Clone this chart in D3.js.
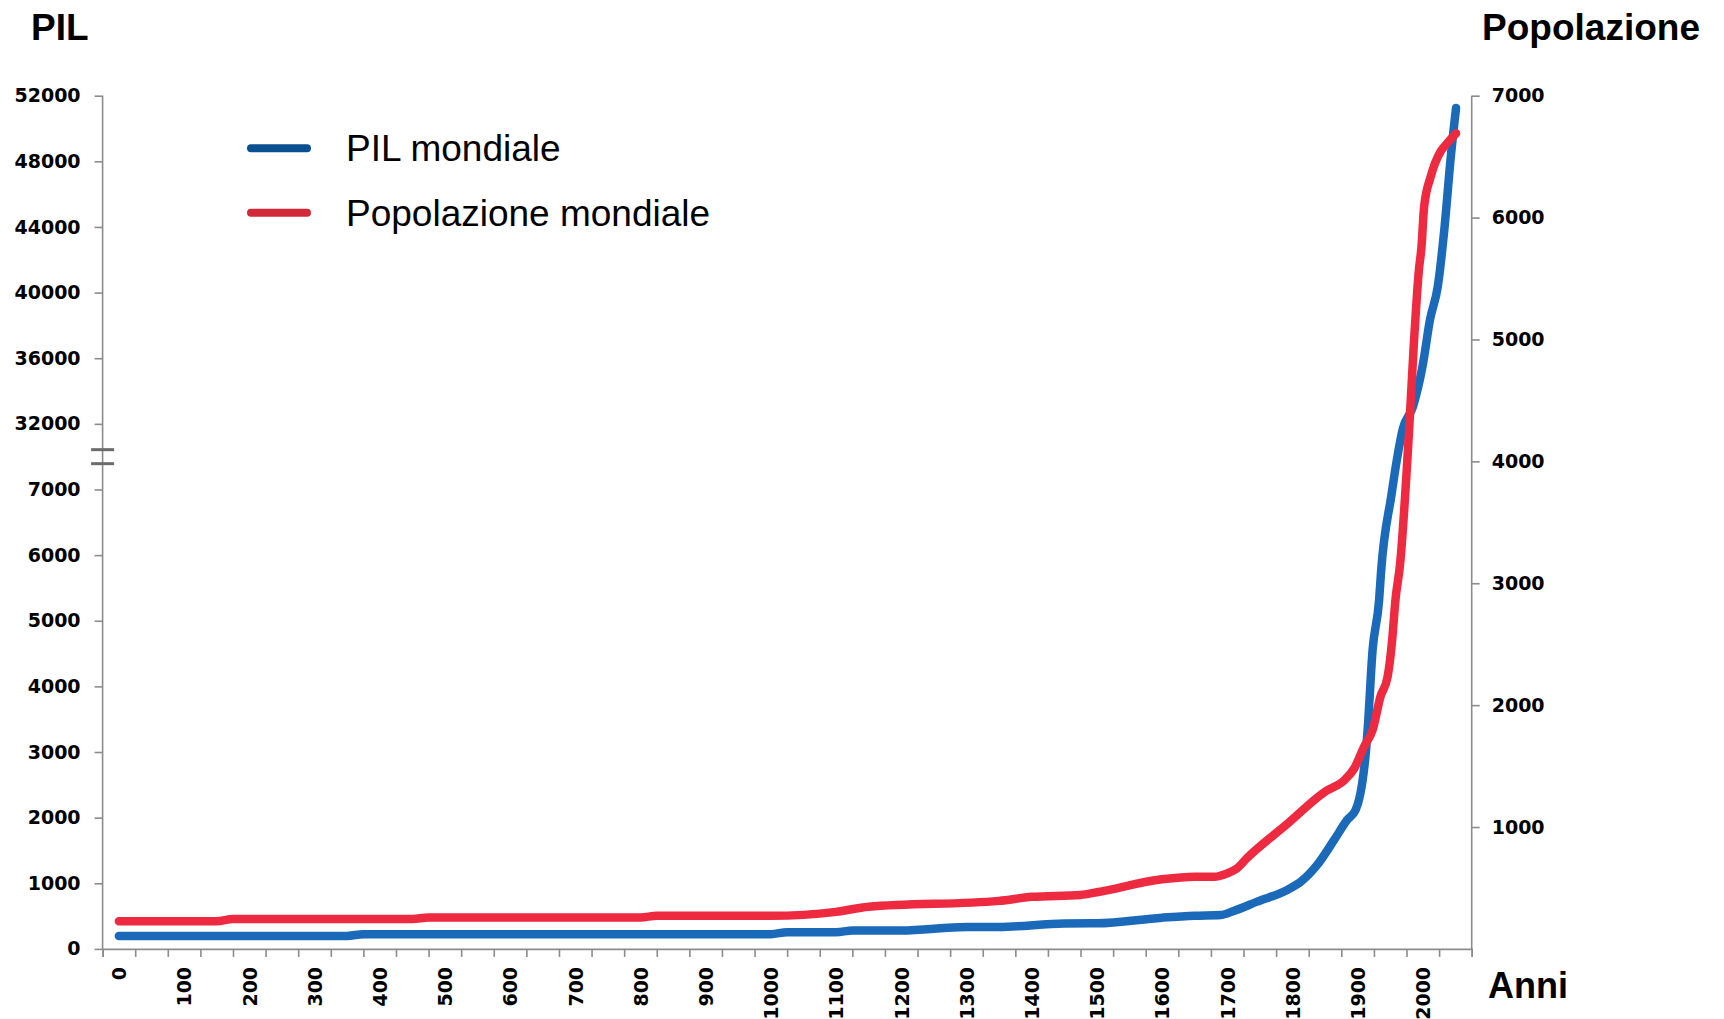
<!DOCTYPE html>
<html>
<head>
<meta charset="utf-8">
<script src="https://cdn.jsdelivr.net/npm/d3@7"></script>
<style>
  html, body { margin: 0; padding: 0; background: #fff; }
  svg { display: block; }
  .tick text { font-family: "DejaVu Sans", sans-serif; font-weight: bold; font-size: 19px; fill: #000; }
</style>
</head>
<body>
<div id="chart"></div>
<script>
// ---------- DATA ----------
const pilYears  = [0, 350, 375, 1000, 1025, 1100, 1125, 1200, 1300, 1350, 1450, 1500, 1600, 1650, 1690, 1710, 1746, 1792, 1813, 1838, 1864, 1884, 1897, 1907, 1912, 1915, 1923, 1933, 1936, 1952, 1960, 1969, 1985, 2000, 2011, 2023, 2033, 2043, 2051];
const pilValues = [198, 198, 224, 224, 255, 255, 280, 280, 335, 335, 387, 390, 476, 506, 517, 578, 720, 898, 1024, 1279, 1660, 1965, 2117, 2524, 2930, 3287, 4556, 5319, 5750, 6922, 18000, 29750, 33061, 35600, 38348, 40378, 43835, 48305, 51256];

const popYears  = [0, 150, 175, 450, 475, 800, 825, 1000, 1100, 1150, 1350, 1400, 1475, 1500, 1600, 1650, 1680, 1700, 1715, 1730, 1790, 1850, 1880, 1895, 1910, 1923, 1935, 1946, 1953, 1958, 1965, 1979, 1986, 1994, 1998, 2002, 2012, 2027, 2035, 2051];
const popValues = [227, 227, 246, 246, 258, 258, 271, 271, 304, 345, 394, 427, 443, 465, 571, 592, 592, 620, 661, 743, 1016, 1290, 1386, 1482, 1660, 1796, 2069, 2233, 2534, 2862, 3150, 4257, 4940, 5569, 5760, 6088, 6334, 6540, 6595, 6691];

const xLabels        = [0, 100, 200, 300, 400, 500, 600, 700, 800, 900, 1000, 1100, 1200, 1300, 1400, 1500, 1600, 1700, 1800, 1900, 2000];
const pilTickValues  = [0, 1000, 2000, 3000, 4000, 5000, 6000, 7000, 32000, 36000, 40000, 44000, 48000, 52000];
const popTickValues  = [1000, 2000, 3000, 4000, 5000, 6000, 7000];
const legendLabels   = ["PIL mondiale", "Popolazione mondiale"];

// ---------- LAYOUT ----------
const W = 1724, H = 1019;
const pLeft = 102.6, pRight = 1471.7, pTop = 95.7, pBottom = 948.9;

const svg = d3.select("#chart").append("svg").attr("width", W).attr("height", H);

const x = d3.scaleLinear().domain([-25, 2075]).range([pLeft, pRight]);
const step = (pBottom - pTop) / 13;
const yPil = d3.scaleLinear()
  .domain([0, 7000, 32000, 52000])
  .range([pBottom, pBottom - 7 * step, pBottom - 8 * step, pTop]);
const yPop = d3.scaleLinear().domain([0, 7000]).range([pBottom, pTop]);

const axisColor = "#8c8c8c";

// left axis
const gL = svg.append("g").attr("transform", `translate(${pLeft},0)`)
  .call(d3.axisLeft(yPil).tickValues(pilTickValues).tickFormat(d3.format("d")).tickSizeOuter(0).tickSize(8).tickPadding(14));
// right axis
const gR = svg.append("g").attr("transform", `translate(${pRight},0)`)
  .call(d3.axisRight(yPop).tickValues(popTickValues).tickFormat(d3.format("d")).tickSizeOuter(0).tickSize(8).tickPadding(12));
// bottom axis (tick marks between categories)
const boundaries = d3.range(-25, 2076, 50);
const gB = svg.append("g").attr("transform", `translate(0,${pBottom})`)
  .call(d3.axisBottom(x).tickValues(boundaries).tickFormat("").tickSizeOuter(0).tickSize(8));
const gBL = svg.append("g").attr("transform", `translate(0,${pBottom})`)
  .call(d3.axisBottom(x).tickValues(xLabels).tickFormat(d3.format("d")).tickSize(0));
gBL.select(".domain").remove();
gBL.selectAll(".tick text")
  .attr("transform", "rotate(-90)")
  .attr("text-anchor", "end")
  .attr("x", -18)
  .attr("y", 0)
  .attr("dy", "0.36em");

[gL, gR, gB].forEach(g => {
  g.selectAll(".domain").attr("stroke", axisColor).attr("stroke-width", 1.6);
  g.selectAll(".tick line").attr("stroke", axisColor).attr("stroke-width", 1.6);
});
gR.select(".domain").attr("d", `M0,${pTop}V${pBottom}`);
gL.select(".domain").attr("d", `M0,${pTop}V${pBottom}`);

// axis break marks
const breakY = (yPil(7000) + yPil(32000)) / 2;
[-7, 7].forEach(o => {
  svg.append("line")
    .attr("x1", pLeft - 11.5).attr("x2", pLeft + 11.5)
    .attr("y1", breakY + o).attr("y2", breakY + o)
    .attr("stroke", "#6b6b6b").attr("stroke-width", 3);
});

// ---------- LINES ----------
const pilData = pilYears.map((yr, i) => ({ yr, v: pilValues[i] }));
const popData = popYears.map((yr, i) => ({ yr, v: popValues[i] }));

const linePil = d3.line().x(d => x(d.yr)).y(d => yPil(d.v)).curve(d3.curveMonotoneX);
const linePop = d3.line().x(d => x(d.yr)).y(d => yPop(d.v)).curve(d3.curveMonotoneX);

svg.append("path").datum(pilData).attr("d", linePil)
  .attr("fill", "none").attr("stroke", "#1b6ab9").attr("stroke-width", 8.5)
  .attr("stroke-linecap", "round").attr("stroke-linejoin", "round");
svg.append("path").datum(popData).attr("d", linePop)
  .attr("fill", "none").attr("stroke", "#ee2a41").attr("stroke-width", 8.5)
  .attr("stroke-linecap", "round").attr("stroke-linejoin", "round");

// ---------- LEGEND ----------
const legendColors = ["#0a4f8f", "#d3283a"];
const legendY = [148.3, 212.7];
legendLabels.forEach((lab, i) => {
  svg.append("line")
    .attr("x1", 251).attr("x2", 307)
    .attr("y1", legendY[i]).attr("y2", legendY[i])
    .attr("stroke", legendColors[i]).attr("stroke-width", 8).attr("stroke-linecap", "round");
  svg.append("text")
    .attr("x", 346).attr("y", legendY[i] + 13)
    .attr("font-family", "Liberation Sans, Arial, sans-serif")
    .attr("font-size", 37).attr("fill", "#000")
    .text(lab);
});

// ---------- TITLES ----------
const titleFont = "Liberation Sans, Arial, sans-serif";
svg.append("text").attr("x", 31).attr("y", 40)
  .attr("font-family", titleFont).attr("font-weight", "bold").attr("font-size", 37).text("PIL");
svg.append("text").attr("x", 1700).attr("y", 40).attr("text-anchor", "end")
  .attr("font-family", titleFont).attr("font-weight", "bold").attr("font-size", 37).text("Popolazione");
svg.append("text").attr("x", 1488).attr("y", 998)
  .attr("font-family", titleFont).attr("font-weight", "bold").attr("font-size", 36).text("Anni");
</script>
</body>
</html>
